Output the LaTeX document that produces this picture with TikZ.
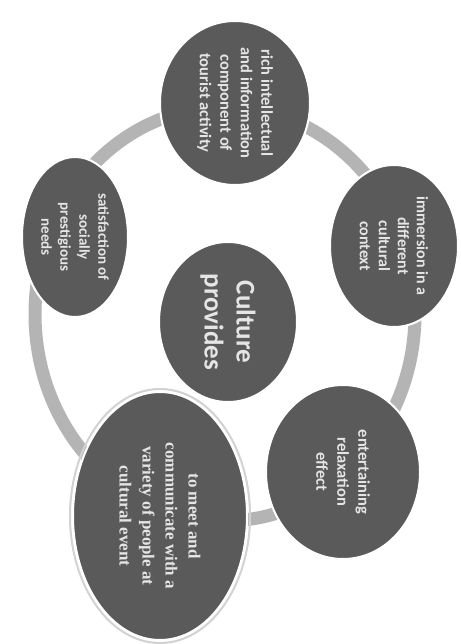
\documentclass[tikz,border=0pt]{standalone}
\usepackage{fontspec}
\setmainfont{Carlito}
\newfontfamily\timesfont{Liberation Serif}
\usetikzlibrary{shapes.geometric}
\definecolor{bubblegray}{HTML}{5A5A5A}
\definecolor{ringgray}{HTML}{B4B4B4}

\begin{document}
\begin{tikzpicture}[x=1pt,y=-1pt,
  bubble/.style={ellipse,fill=bubblegray,draw=white,line width=2pt,text=white!90!black,
    rotate=-90,align=center,inner sep=0pt,font=\bfseries\fontsize{16}{19}\selectfont},
  ringband/.style={draw=ringgray,line width=13pt}]
\fill[white] (0,0) rectangle (460,644);
\useasboundingbox (0,0) rectangle (460,644);
% the cycle behind the bubbles
\draw[ringband] (225,314) ellipse [x radius=190, y radius=207];
\draw[gray!35,line width=2pt] (160,516) ellipse [x radius=90, y radius=127];
% bubbles round the cycle
\node[bubble,minimum width=164pt,minimum height=150pt,font=\bfseries\fontsize{16.5}{20.5}\selectfont] (intellect) at (235,103)
  {rich intellectual\\and information\\component of\\tourist activity};
\node[bubble,minimum width=162pt,minimum height=128pt] (immersion) at (394,246)
  {immersion in a\\different\\cultural\\context};
\node[bubble,minimum width=174pt,minimum height=154pt,font=\bfseries\fontsize{16.5}{21}\selectfont] (relax) at (343,472)
  {entertaining\\relaxation\\effect};
\node[bubble,minimum width=248pt,minimum height=174pt,font=\timesfont\bfseries\fontsize{17}{23}\selectfont] (meeting) at (160,516)
  {to meet and\\communicate with a\\variety of people at\\cultural event};
\node[bubble,minimum width=160pt,minimum height=106pt,font=\bfseries\fontsize{15}{19}\selectfont] (prestige) at (75,237)
  {satisfaction of\\socially\\prestigious\\needs};
% centre
\node[bubble,minimum width=160pt,minimum height=138pt,font=\bfseries\fontsize{27}{32}\selectfont] (culture) at (228,322)
  {Culture\\provides};
\end{tikzpicture}
\end{document}
